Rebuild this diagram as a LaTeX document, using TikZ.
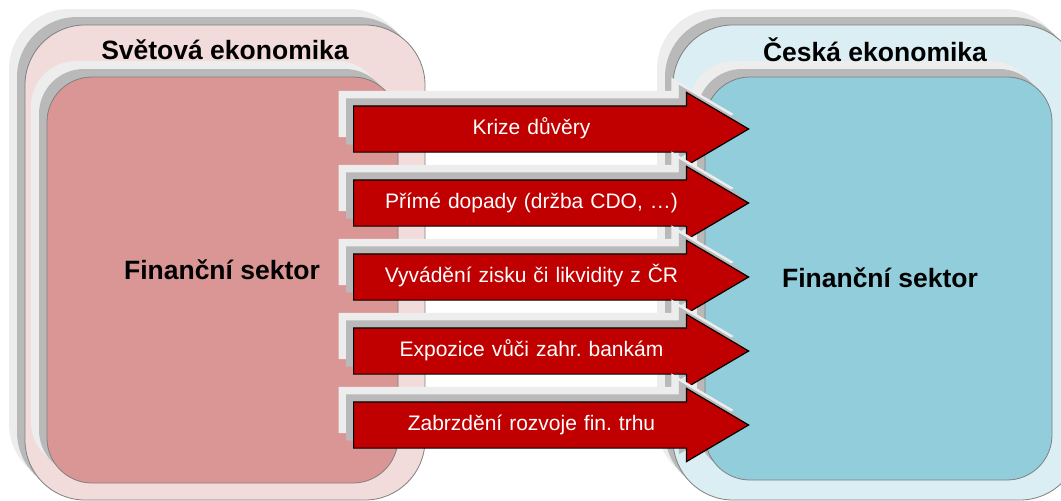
\documentclass[tikz,border=0pt]{standalone}
\usepackage{fontspec}
\setmainfont{Liberation Sans}
\frenchspacing
\usetikzlibrary{positioning,shapes.arrows,shadows}

\definecolor{worldout}{HTML}{F2DCDB}
\definecolor{worldin}{HTML}{D99694}
\definecolor{czout}{HTML}{DBEEF4}
\definecolor{czin}{HTML}{92CDDC}
\definecolor{flowred}{HTML}{C00000}

\tikzset{
  softshadow/.style={general shadow={shadow xshift=-#1pt,shadow yshift=#1pt,fill=gray!14},
                     general shadow={shadow xshift=-0.5*#1pt,shadow yshift=0.5*#1pt,fill=gray!55}},
  outerbox/.style={draw=gray,line width=0.8pt,rounded corners=60pt,inner sep=0pt,
                   minimum height=475pt,softshadow=16},
  innerbox/.style={draw=gray,line width=0.8pt,rounded corners=45pt,inner sep=0pt,softshadow=16},
  heading/.style={font=\fontsize{26.5}{30}\selectfont\bfseries},
  flow/.style={single arrow,single arrow head extend=13.5pt,single arrow tip angle=61,
               single arrow head indent=0pt,fill=flowred,draw=black,line width=1.2pt,
               text=white,font=\fontsize{21}{24}\selectfont,minimum height=395pt,
               text height=15pt,text depth=5pt,inner ysep=12.5pt,inner xsep=2pt,
               text width=300pt,align=center,softshadow=15}
}

\begin{document}
\begin{tikzpicture}[x=1pt,y=-1pt,node distance=74pt,on grid]
\useasboundingbox (0,0) rectangle (1061,501);
% world economy
\node[outerbox,fill=worldout,minimum width=400pt] (world_out) at (225,262.5) {};
\node[innerbox,fill=worldin,minimum width=351pt,minimum height=406pt] (world_in) at (222.5,280) {};
\node[heading] (world_t) at (225,50) {Světová ekonomika};
\node[heading] (world_s) at (222,270) {Finanční sektor};
% czech economy
\node[outerbox,fill=czout,minimum width=407pt] (cz_out) at (876.5,262.5) {};
\node[innerbox,fill=czin,minimum width=347pt,minimum height=403pt] (cz_in) at (878.5,278.5) {};
\node[heading] (cz_t) at (875,50) {Česká ekonomika};
\node[heading] (cz_s) at (880,278) {Finanční sektor};
% channels
\node[flow,anchor=tail] (f_1) at (353,129) {Krize důvěry};
\node[flow] (f_2) [below=of f_1] {Přímé dopady (držba CDO, …)};
\node[flow] (f_3) [below=of f_2] {Vyvádění zisku či likvidity z ČR};
\node[flow] (f_4) [below=of f_3] {Expozice vůči zahr. bankám};
\node[flow] (f_5) [below=of f_4] {Zabrzdění rozvoje fin. trhu};
\end{tikzpicture}
\end{document}
